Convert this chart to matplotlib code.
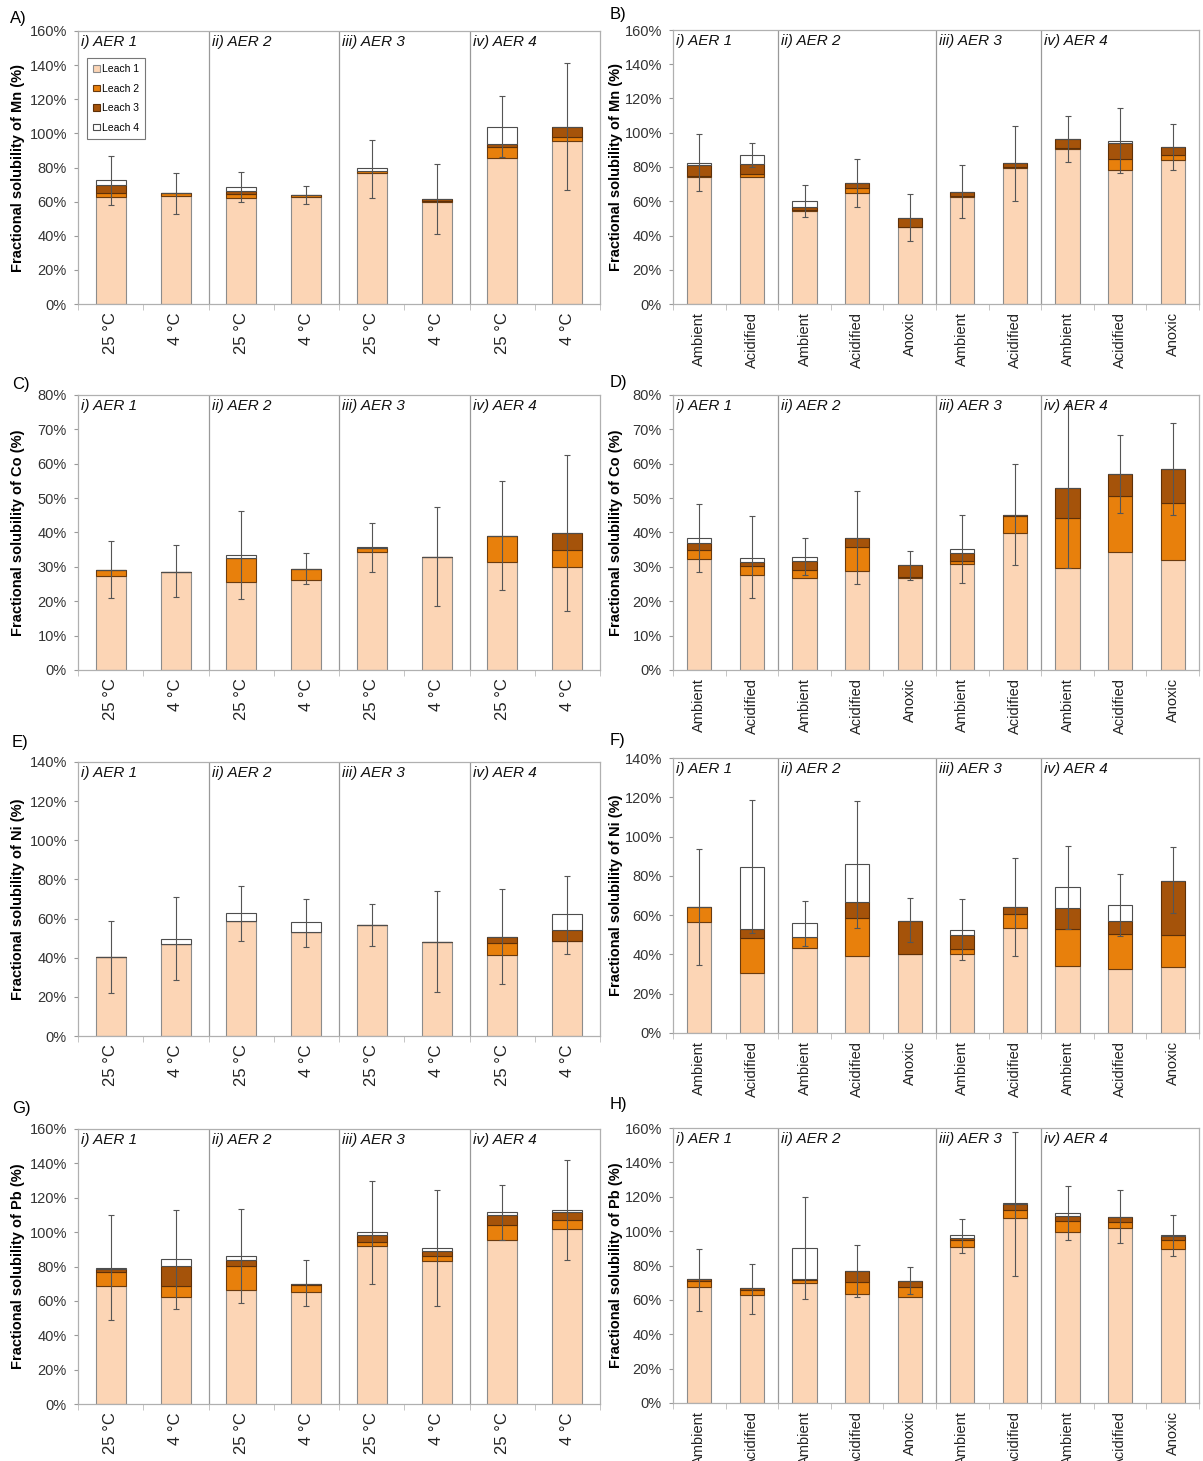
import numpy as np
import matplotlib.pyplot as plt
from matplotlib.patches import Patch
from matplotlib.ticker import FuncFormatter

plt.rcParams['font.family'] = ['Liberation Sans', 'DejaVu Sans']

# x categories
temp_labels = ['25 °C', '4 °C'] * 4
treat_labels = ['Ambient', 'Acidified',
                'Ambient', 'Acidified', 'Anoxic',
                'Ambient', 'Acidified',
                'Ambient', 'Acidified', 'Anoxic']
temp_groups = [2, 2, 2, 2]
treat_groups = [2, 3, 2, 3]
group_names = ['i) AER 1', 'ii) AER 2', 'iii) AER 3', 'iv) AER 4']
leach_names = ['Leach 1', 'Leach 2', 'Leach 3', 'Leach 4']

# cumulative top of leach 1..4 (%) for each bar
mn_temp_cum = [[62.7, 63.3, 62.1, 62.7, 76.7, 59.8, 85.6, 95.8],
               [65.2, 64.8, 64.6, 63.7, 77.9, 60.5, 91.9, 98.1],
               [69.5, 64.9, 66.0, 64.0, 78.2, 61.3, 93.8, 104.0],
               [72.4, 64.9, 68.5, 64.0, 79.6, 61.3, 103.6, 104.0]]
mn_temp_err = [[87.0, 76.7, 77.3, 69.3, 96.4, 82.0, 121.7, 141.0],
               [57.8, 52.9, 59.6, 58.4, 62.3, 41.0, 86.0, 67.0]]

mn_treat_cum = [[74.4, 74.4, 54.5, 64.6, 44.8, 62.7, 79.2, 90.7, 78.2, 84.1],
                [74.7, 75.9, 54.9, 67.5, 45.0, 63.1, 80.2, 90.9, 84.7, 86.8],
                [81.2, 81.8, 56.8, 70.5, 50.0, 65.2, 82.1, 96.4, 93.8, 91.7],
                [82.5, 87.0, 60.1, 70.9, 50.0, 65.2, 82.3, 96.5, 95.4, 91.7]]
mn_treat_err = [[99.3, 94.2, 69.5, 84.7, 64.0, 81.0, 104.0, 110.0, 114.6, 105.0],
                [66.0, 80.2, 50.6, 56.8, 36.8, 50.0, 60.3, 83.0, 76.3, 78.2]]

co_temp_cum = [[27.2, 28.4, 25.6, 26.3, 34.4, 32.9, 31.5, 30.1],
               [29.1, 28.5, 32.6, 29.5, 35.6, 32.9, 39.0, 35.0],
               [29.1, 28.6, 32.7, 29.5, 35.6, 32.9, 39.0, 39.8],
               [29.1, 28.6, 33.4, 29.5, 35.7, 32.9, 39.0, 39.8]]
co_temp_err = [[37.5, 36.3, 46.2, 34.0, 42.7, 47.3, 55.0, 62.6],
               [20.8, 21.3, 20.6, 24.9, 28.5, 18.5, 23.2, 17.2]]

co_treat_cum = [[32.2, 27.7, 26.9, 28.8, 26.9, 30.8, 39.8, 29.8, 34.2, 32.0],
                [34.9, 30.3, 29.0, 35.9, 27.0, 31.6, 44.7, 44.1, 50.7, 48.7],
                [36.8, 31.3, 31.6, 38.3, 30.5, 34.0, 45.0, 52.9, 57.0, 58.4],
                [38.5, 32.7, 33.0, 38.3, 30.5, 35.1, 45.0, 52.9, 57.0, 58.4]]
co_treat_err = [[48.4, 44.7, 38.5, 52.1, 34.7, 45.1, 59.8, 77.5, 68.3, 71.8],
                [28.5, 20.9, 27.6, 25.0, 26.2, 25.2, 30.5, 29.8, 45.8, 45.0]]

ni_temp_cum = [[40.4, 47.2, 58.8, 53.3, 56.5, 48.2, 41.2, 48.5],
               [40.4, 47.2, 58.8, 53.3, 56.6, 48.2, 47.4, 48.5],
               [40.4, 47.2, 58.8, 53.3, 56.6, 48.2, 50.8, 54.0],
               [40.4, 49.7, 62.7, 58.1, 56.6, 48.2, 50.8, 62.2]]
ni_temp_err = [[58.8, 71.0, 76.6, 70.2, 67.4, 74.0, 75.3, 81.8],
               [22.1, 28.5, 48.5, 45.6, 46.0, 22.5, 26.7, 42.0]]

ni_treat_cum = [[56.6, 30.3, 43.4, 39.3, 40.1, 40.0, 53.6, 34.0, 32.5, 33.7],
                [64.0, 48.5, 49.0, 58.7, 40.1, 43.0, 60.4, 52.9, 50.2, 49.8],
                [64.0, 53.2, 49.0, 66.8, 57.2, 49.8, 64.0, 63.4, 57.2, 77.4],
                [64.0, 84.7, 55.8, 85.9, 57.2, 52.4, 64.0, 74.5, 65.1, 77.4]]
ni_treat_err = [[93.7, 118.4, 67.4, 117.9, 68.5, 68.0, 89.0, 95.3, 80.8, 94.6],
                [34.5, 51.0, 44.4, 53.6, 46.1, 37.1, 39.3, 52.9, 49.3, 60.9]]

pb_temp_cum = [[68.9, 62.3, 66.5, 65.0, 91.7, 83.4, 95.6, 101.8],
               [76.6, 68.9, 80.1, 69.4, 94.1, 85.9, 104.0, 106.9],
               [78.7, 80.1, 83.6, 70.0, 98.5, 88.8, 109.8, 111.7],
               [79.1, 84.4, 86.3, 70.0, 100.1, 90.8, 111.7, 113.1]]
pb_temp_err = [[109.8, 113.0, 113.7, 83.6, 130.0, 124.3, 127.2, 142.2],
               [48.7, 55.3, 58.6, 57.2, 70.0, 57.2, 95.6, 83.6]]

pb_treat_cum = [[67.7, 62.6, 69.6, 63.6, 61.8, 91.0, 107.9, 99.7, 101.7, 89.4],
                [71.0, 65.5, 71.3, 70.4, 67.7, 94.7, 112.2, 106.0, 105.4, 94.7],
                [71.9, 66.7, 72.3, 76.8, 71.0, 96.2, 115.7, 108.9, 108.3, 97.2],
                [71.9, 66.7, 90.0, 76.8, 71.0, 97.6, 116.3, 110.4, 108.3, 97.6]]
pb_treat_err = [[89.4, 81.1, 119.6, 91.8, 79.3, 107.3, 157.9, 126.0, 123.8, 109.4],
                [53.5, 51.9, 60.8, 61.6, 63.2, 87.5, 73.9, 94.9, 93.3, 85.5]]

leach_colors = ['#FCD5B5', '#E8800C', '#A5530A', '#FFFFFF']
leach_edges = ['#8c8c8c', '#6b3b0e', '#5e3008', '#4d4d4d']

W, H = 1203, 1461
fig = plt.figure(figsize=(W / 100, H / 100), dpi=100)

# (letter, metal, cum, err, labels, groups, ymax, ystep, left, width, top, bottom, letter pos)
panels = [
    ('A)', 'Mn', mn_temp_cum, mn_temp_err, temp_labels, temp_groups, 160, 20, 78, 522, 31, 304, (10, 18)),
    ('B)', 'Mn', mn_treat_cum, mn_treat_err, treat_labels, treat_groups, 160, 20, 673, 526, 30, 304, (610, 15)),
    ('C)', 'Co', co_temp_cum, co_temp_err, temp_labels, temp_groups, 80, 10, 78, 522, 395, 670, (12, 385)),
    ('D)', 'Co', co_treat_cum, co_treat_err, treat_labels, treat_groups, 80, 10, 673, 526, 395, 670, (610, 383)),
    ('E)', 'Ni', ni_temp_cum, ni_temp_err, temp_labels, temp_groups, 140, 20, 78, 522, 762, 1036, (12, 743)),
    ('F)', 'Ni', ni_treat_cum, ni_treat_err, treat_labels, treat_groups, 140, 20, 673, 526, 758, 1033, (610, 740)),
    ('G)', 'Pb', pb_temp_cum, pb_temp_err, temp_labels, temp_groups, 160, 20, 78, 522, 1129, 1404, (12, 1108)),
    ('H)', 'Pb', pb_treat_cum, pb_treat_err, treat_labels, treat_groups, 160, 20, 673, 526, 1128, 1403, (610, 1105)),
]

for letter, metal, cum, err, labels, groups, ymax, ystep, left, width, top, bottom, lpos in panels:
    ax = fig.add_axes([left / W, 1 - bottom / H, width / W, (bottom - top) / H])
    n = len(labels)
    x = np.arange(n)
    cum = np.array(cum)
    base = np.zeros(n)
    for k in range(4):
        h = cum[k] - base
        ax.bar(x, h, bottom=base, width=0.46, color=leach_colors[k],
               edgecolor=leach_edges[k], linewidth=0.8, zorder=2)
        base = cum[k]
    top_val = cum[3]
    err = np.array(err)
    ax.errorbar(x, top_val, yerr=[top_val - err[1], err[0] - top_val], fmt='none',
                ecolor='#555555', elinewidth=0.8, capsize=2, capthick=0.8, zorder=3)

    ax.set_xlim(-0.5, n - 0.5)
    ax.set_ylim(0, ymax)
    ax.set_yticks(np.arange(0, ymax + 1, ystep))
    ax.yaxis.set_major_formatter(FuncFormatter(lambda v, p: '%d%%' % v))
    ax.tick_params(axis='y', direction='out', length=3, color='#999999',
                   labelsize=10.5, labelcolor='#333333', pad=5)
    ax.set_xticks(x)
    ax.set_xticklabels(labels, rotation=90, fontsize=12 if n == 8 else 10.5, color='#222222')
    ax.tick_params(axis='x', which='major', length=0, pad=6)
    ax.set_xticks(np.arange(-0.5, n, 1.0), minor=True)
    ax.tick_params(axis='x', which='minor', direction='out', length=4, color='#bbbbbb')
    for s in ax.spines.values():
        s.set_color('#b0b0b0')
        s.set_linewidth(0.9)

    # group separators and titles
    start = 0
    for g, size in enumerate(groups):
        if g > 0:
            ax.axvline(start - 0.5, color='#999999', linewidth=0.9, zorder=1)
        ax.text(start - 0.5 + 0.05, 0.985, group_names[g], transform=ax.get_xaxis_transform(),
                fontsize=11, style='italic', va='top', ha='left', color='#111111')
        start += size

    ax.set_ylabel('Fractional solubility of %s (%%)' % metal, fontsize=10.5, fontweight='bold')
    label_x = 25 if left < 600 else 623
    ax.yaxis.set_label_coords((label_x - left) / width, 0.5)
    fig.text(lpos[0] / W, 1 - lpos[1] / H, letter, fontsize=12, va='center', ha='left')

    if letter == 'A)':
        handles = [Patch(facecolor=leach_colors[k], edgecolor=leach_edges[k], linewidth=0.8)
                   for k in range(4)]
        leg = ax.legend(handles, leach_names, loc='upper left',
                        bbox_to_anchor=((82 - left) / width, (bottom - 53) / (bottom - top)),
                        fontsize=7.5, handlelength=0.6, handleheight=0.6, handletextpad=0.2,
                        labelspacing=0.9, borderpad=0.6, fancybox=False, framealpha=1,
                        edgecolor='#777777')
        leg.get_frame().set_linewidth(0.8)

fig.savefig('out.png', dpi=100)
